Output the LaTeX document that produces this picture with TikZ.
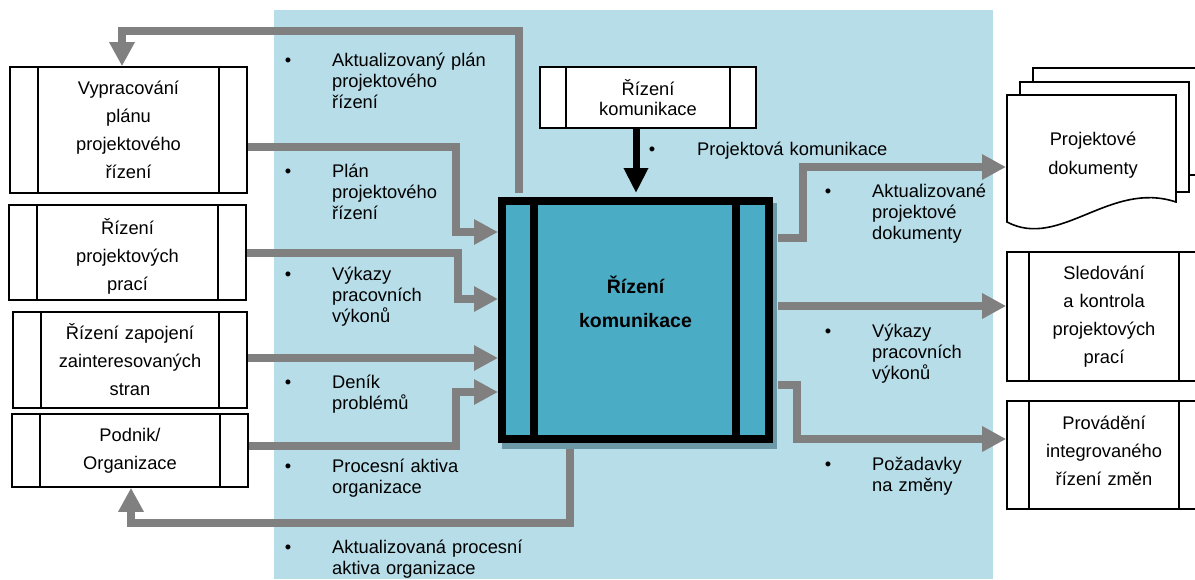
\documentclass[tikz,border=0pt]{standalone}
\usepackage{fontspec}
\setmainfont{Liberation Sans}
\usetikzlibrary{arrows.meta}

\definecolor{panel}{HTML}{B7DDE8}
\definecolor{corefill}{HTML}{4BACC6}
\definecolor{coreshadow}{HTML}{6C99A7}
\definecolor{flowgray}{HTML}{808080}

\newcommand\lblfont{\fontsize{18.3}{21.3}\selectfont}
\newcommand\boxfont{\fontsize{18.3}{28}\selectfont}

\tikzset{
  procbox/.style={draw=black, line width=1.6pt, fill=white, inner sep=0pt,
    align=center, font=\boxfont, text width=170pt},
  boxtext/.style={anchor=base, inner sep=0pt, align=center,
    text width=170pt, font=\boxfont},
  sidebars/.style={path picture={
    \draw[line width=1.6pt]
      ([xshift=#1]path picture bounding box.north west) --
      ([xshift=#1]path picture bounding box.south west)
      ([xshift=-#1]path picture bounding box.north east) --
      ([xshift=-#1]path picture bounding box.south east);}},
  flow/.style={draw=flowgray, line width=8pt,
    -{Triangle[length=24pt,width=24pt]}},
  lbl/.style={anchor=base west, inner sep=0pt, align=left,
    text width=220pt, font=\lblfont},
  bul/.style={anchor=base, inner sep=0pt, font=\lblfont},
  page/.style={draw=black, line width=1.6pt, fill=white},
}

\begin{document}
\begin{tikzpicture}[x=1pt,y=-1pt]
\useasboundingbox (0,0) rectangle (1195,579);
\clip (0,0) rectangle (1195,579);

% light panel behind the central process
\fill[panel] (274,10) rectangle (993,579);

% left-hand processes
\node[procbox, sidebars=28pt, minimum width=237pt, minimum height=126pt]
  (vyp) at (128.5,130) {Vypracování\\plánu\\projektového\\řízení};
\node[procbox, sidebars=28pt, minimum width=237pt, minimum height=95pt]
  (prace) at (127.5,252.5) {};
\node[boxtext] (pracetext) at (127.5,234) {Řízení\\projektových\\prací};
\node[procbox, sidebars=28pt, minimum width=234pt, minimum height=96pt]
  (zapoj) at (130,360) {Řízení zapojení\\zainteresovaných\\stran};
\node[procbox, sidebars=28pt, minimum width=236pt, minimum height=73pt]
  (podnik) at (130,450.5) {Podnik/\\Organizace};

% control process above
\node[procbox, sidebars=26pt, minimum width=216pt, minimum height=61pt,
  font=\fontsize{18.3}{20}\selectfont]
  (rkom) at (648,97.5) {Řízení\\komunikace};

% central process with its shadow
\fill[coreshadow] (502,203) rectangle (777,449);
\node[draw=black, line width=8pt, fill=corefill, inner sep=0pt,
  minimum width=267pt, minimum height=238pt] (rk) at (635.5,320) {};
\draw[line width=8pt]
  ([xshift=36pt,yshift=-4pt]rk.north west) -- ([xshift=36pt,yshift=4pt]rk.south west)
  ([xshift=-37pt,yshift=-4pt]rk.north east) -- ([xshift=-37pt,yshift=4pt]rk.south east);
\node[anchor=base, inner sep=0pt, align=center, text width=190pt,
  font=\bfseries\fontsize{19.5}{34}\selectfont]
  (rktext) at (635.5,293) {Řízení\\komunikace};

% right-hand processes
\node[procbox, sidebars=22pt, minimum width=194pt, minimum height=129pt]
  (sled) at (1104,316.5) {Sledování\\a kontrola\\projektových\\prací};
\node[procbox, sidebars=22pt, minimum width=194pt, minimum height=108pt]
  (prov) at (1104,455) {};
\node[boxtext, text width=150pt] (provtext) at (1104,429)
  {Provádění\\integrovaného\\řízení změn};

% stack of documents
\draw[page] (1033,82) -- (1033,68) -- (1202,68) -- (1202,175) -- (1189,175);
\draw[page] (1020,95) -- (1020,82) -- (1189,82) -- (1189,192) -- (1176,192);
\draw[page] (1007,222) -- (1007,95) -- (1176,95) -- (1176,202)
  .. controls (1110,180) and (1060,250) .. cycle;
\node[anchor=base, inner sep=0pt, align=center, text width=160pt,
  font=\fontsize{18.3}{29}\selectfont]
  (docs) at (1093,145) {Projektové\\dokumenty};
\coordinate (docsin) at (1006,167);

% inputs
\draw[flow] ([yshift=-17pt]vyp.east) -- (456,147) -- (456,232) -- (rk.west |- 0,232);
\draw[flow] (prace.east) -- (458,252.5) -- (458,299) -- (rk.west |- 0,299);
\draw[flow] (zapoj.east |- 0,358) -- (rk.west |- 0,358);
\draw[flow] (podnik.east |- 0,446) -- (456,446) -- (456,392) -- (rk.west |- 0,392);

% feedback loops
\draw[flow] ([xshift=21pt,yshift=4pt]rk.north west) -- (519,31) -- (122,31) -- (vyp.north -| 122,0);
\draw[flow] ([xshift=-65.5pt,yshift=-6pt]rk.south) -- (570,523) -- (131,523) -- (podnik.south -| 131,0);

% control arrow
\draw[line width=7pt, -{Triangle[length=25pt,width=23pt]}]
  (rkom.south -| 636,0) -- ([yshift=4pt]rk.north -| 636,0);

% outputs
\draw[flow] ([xshift=5pt,yshift=82pt]rk.east) -- (803,238) -- (803,167) -- (docsin);
\draw[flow] ([xshift=5pt,yshift=14pt]rk.east) -- (sled.west |- 0,306);
\draw[flow] ([xshift=5pt,yshift=-65pt]rk.east) -- (797,385) -- (797,439) -- (prov.west |- 0,439);

% flow labels, left
\node[bul] (b1) at (288,66) {•};
\node[lbl] (l1) at (332,66) {Aktualizovaný plán\\projektového\\řízení};
\node[bul] (b2) at (288,177) {•};
\node[lbl] (l2) at (332,177) {Plán\\projektového\\řízení};
\node[bul] (b3) at (288,280) {•};
\node[lbl] (l3) at (332,280) {Výkazy\\pracovních\\výkonů};
\node[bul] (b4) at (288,388) {•};
\node[lbl] (l4) at (332,388) {Deník\\problémů};
\node[bul] (b5) at (288,472) {•};
\node[lbl] (l5) at (332,472) {Procesní aktiva\\organizace};
\node[bul] (b6) at (288,553) {•};
\node[lbl] (l6) at (332,553) {Aktualizovaná procesní\\aktiva organizace};

% flow label, control
\node[bul] (b7) at (652,155) {•};
\node[lbl] (t1) at (697,155) {Projektová komunikace};

% flow labels, right
\node[bul] (b8) at (828,197) {•};
\node[lbl] (r1) at (872,197) {Aktualizované\\projektové\\dokumenty};
\node[bul] (b9) at (828,337) {•};
\node[lbl] (r2) at (872,337) {Výkazy\\pracovních\\výkonů};
\node[bul] (b10) at (828,470) {•};
\node[lbl] (r3) at (872,470) {Požadavky\\na změny};
\end{tikzpicture}
\end{document}
